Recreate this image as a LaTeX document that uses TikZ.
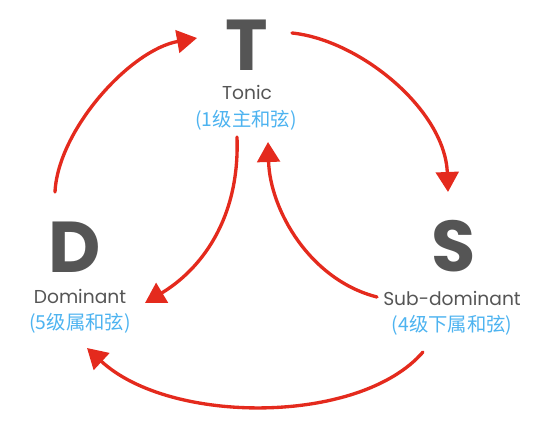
\documentclass[tikz,border=0pt]{standalone}
\usepackage{fontspec}
\setmainfont{Poppins}
\newfontfamily\cjk{Noto Sans CJK SC}
\usetikzlibrary{arrows.meta}
\definecolor{crayon}{HTML}{E42A1D}
\definecolor{letter}{HTML}{555555}
\definecolor{cnblue}{HTML}{4DB3F0}
\begin{document}
\begin{tikzpicture}[x=0.75pt,y=-0.75pt,
  bigletter/.style={font=\fontsize{54}{54}\selectfont\bfseries, text=letter, inner sep=0pt, text height=38pt, text depth=0pt},
  enlabel/.style={font=\fontsize{14}{14}\selectfont, text=letter, inner sep=0pt},
  cnlabel/.style={font=\cjk\fontsize{14.5}{15}\selectfont, text=cnblue, inner sep=0pt},
  crayonarrow/.style={draw=crayon, line width=2.5pt, line cap=round, -{Triangle[length=15pt,width=17pt]}}]
\useasboundingbox (0,0) rectangle (539,431);
% labels
\node[bigletter] (T)     at (247,45)  {T};
\node[enlabel]   (tonic) at (247,92)  {Tonic};
\node[cnlabel]   (tcn)   at (246,120) {(1级主和弦)};
\node[bigletter] (D)     at (75,247)  {D};
\node[enlabel]   (dom)   at (80,296)  {Dominant};
\node[cnlabel]   (dcn)   at (80,323)  {(5级属和弦)};
\node[bigletter] (S)     at (454,246) {S};
\node[enlabel]   (sub)   at (452,298) {Sub-dominant};
\node[cnlabel]   (scn)   at (452,325) {(4级下属和弦)};
% arrow end points
\coordinate (dTop)   at (55,192);
\coordinate (tLeft)  at (197,38);
\coordinate (tRight) at (292,33);
\coordinate (sTop)   at (448,192);
\coordinate (sBot)   at (423,352);
\coordinate (dBot)   at (87,348);
\coordinate (tBot)   at (237,137);
\coordinate (dRight) at (145,303);
\coordinate (sLeft)  at (377,297);
\coordinate (tUnder) at (268,142);
% arrows
\draw[crayonarrow] (dTop) .. controls (58,130) and (130,50) .. (tLeft);
\draw[crayonarrow] (tRight) .. controls (360,40) and (445,110) .. (sTop);
\draw[crayonarrow] (sBot) .. controls (360,425) and (170,425) .. (dBot);
\draw[crayonarrow] (tBot) .. controls (240,220) and (200,270) .. (dRight);
\draw[crayonarrow] (sLeft) .. controls (310,280) and (270,210) .. (tUnder);
\end{tikzpicture}
\end{document}
